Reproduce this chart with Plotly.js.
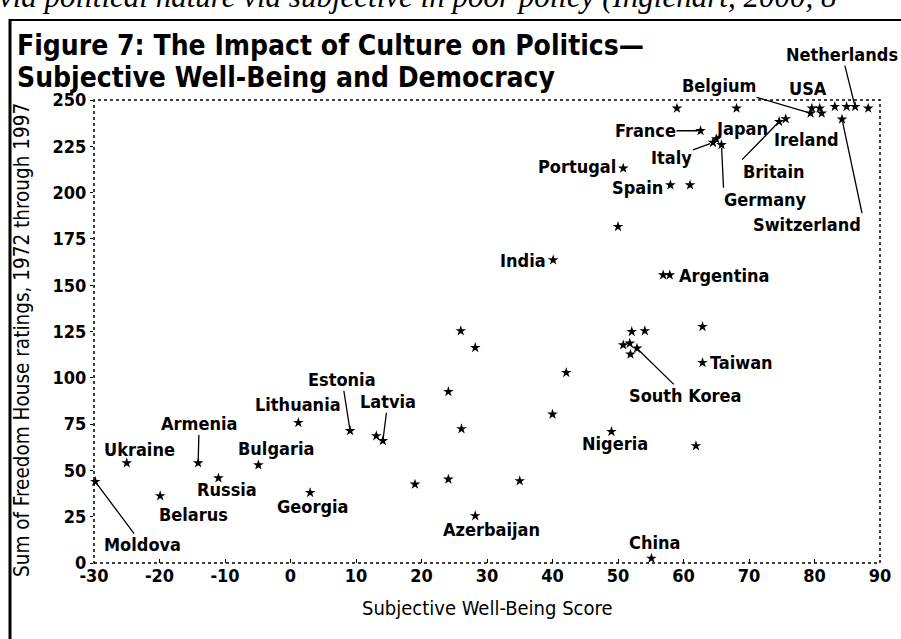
<!DOCTYPE html>
<html><head><meta charset="utf-8">
<script src="https://cdn.plot.ly/plotly-3.0.1.min.js"></script>
<style>html,body{margin:0;padding:0;background:#fff;}#chart{width:901px;height:639px;}</style>
</head><body><div id="chart"></div>
<script>
// ---- data ----
const countries = ['Moldova','Ukraine','Belarus','Armenia','Russia','Bulgaria','Lithuania','Georgia','Estonia','Latvia','',
  '','','','','','','Azerbaijan','','','India','','Nigeria','','Portugal',
  '','','','','South Korea','','China','','Argentina','Spain','','',
  '','France','','Taiwan','Italy','Japan','Germany','','Britain','Ireland',
  'Belgium','','USA','','','Switzerland','','Netherlands',''];
const wellBeing = [-29.8,-25.0,-19.9,-14.1,-11.0,-4.9,1.2,3.0,9.1,14.1,13.1,
  19.0,24.1,24.1,26.1,26.0,28.2,28.2,35.0,40.0,40.1,42.1,49.0,50.0,50.8,
  52.1,54.1,50.8,51.8,52.9,51.9,55.1,56.9,57.9,58.0,61.0,59.0,
  61.9,62.6,62.9,62.9,64.5,65.0,65.8,68.1,74.6,75.6,
  79.4,79.6,80.8,81.1,83.1,84.2,84.9,86.2,88.2];
const freedom = [43.9,54.0,36.2,54.0,45.9,52.9,75.8,38.0,71.4,66.0,68.6,
  42.5,45.2,92.5,72.4,125.3,116.3,25.4,44.3,80.3,163.6,102.8,70.9,181.6,213.1,
  124.9,125.3,117.7,118.6,115.9,112.7,2.5,155.5,155.5,204.1,204.1,245.5,
  63.2,233.4,127.6,108.2,227.0,229.0,225.8,245.5,238.3,239.8,
  242.8,245.5,245.5,242.8,246.4,239.6,246.4,246.4,245.5];
const xTicks = [-30,-20,-10,0,10,20,30,40,50,60,70,80,90];
const yTicks = [0,25,50,75,100,125,150,175,200,225,250];
const titleLines = ['Figure 7: The Impact of Culture on Politics\u2014','Subjective Well-Being and Democracy'];
const xTitle = 'Subjective Well-Being Score';
const yTitle = 'Sum of Freedom House ratings, 1972 through 1997';
const topText = 'via political nature via subjective in poor policy (Inglehart, 2000, 8';

// ---- label placement (pixel offsets from the point) ----
const labelPlace = {
  'Moldova':{arrow:true,ax:47,ay:63},
  'Ukraine':{dx:13,dy:-13},
  'Belarus':{dx:33,dy:19},
  'Armenia':{arrow:true,ax:1,ay:-39},
  'Russia':{dx:9,dy:12},
  'Bulgaria':{dx:18,dy:-17},
  'Lithuania':{dx:0,dy:-18},
  'Georgia':{dx:2,dy:14},
  'Estonia':{arrow:true,ax:-8,ay:-51},
  'Latvia':{arrow:true,ax:5,ay:-39},
  'Azerbaijan':{dx:16,dy:14},
  'China':{dx:3,dy:-16},
  'Nigeria':{dx:4,dy:12},
  'Taiwan':{dx:6,dy:0,xa:'left'},
  'South Korea':{arrow:true,ax:48,ay:47},
  'Argentina':{dx:8,dy:0,xa:'left'},
  'India':{dx:-6,dy:0,xa:'right'},
  'Portugal':{dx:-6,dy:-2,xa:'right'},
  'Spain':{dx:-6,dy:2,xa:'right'},
  'France':{arrow:true,ax:-55,ay:0},
  'Italy':{arrow:true,ax:-41,ay:15},
  'Japan':{arrow:true,ax:-1,ay:-22,xa:'left',ya:'top'},
  'Germany':{arrow:true,ax:2,ay:43,xa:'left',ya:'top'},
  'Britain':{arrow:true,ax:-37,ay:38,xa:'left',ya:'top'},
  'Ireland':{dx:21,dy:21},
  'Belgium':{arrow:true,ax:-54,ay:-16,xa:'right',ya:'bottom'},
  'USA':{dx:-12,dy:-20},
  'Switzerland':{arrow:true,ax:20,ay:94,xa:'right',ya:'top'},
  'Netherlands':{arrow:true,ax:-13,ay:-52}
};

const FONT = "'DejaVu Sans Condensed', 'Liberation Sans Narrow', 'Roboto Condensed', 'DejaVu Sans', sans-serif";
const labFont = {family:FONT,size:18,color:'#000',weight:'bold'};

const annotations = [];
countries.forEach((c,i)=>{
  if(!c) return;
  const p = labelPlace[c] || {dx:0,dy:-15};
  if(p.arrow){
    annotations.push({x:wellBeing[i],y:freedom[i],xref:'x',yref:'y',text:c,showarrow:true,
      ax:p.ax,ay:p.ay,arrowhead:0,arrowwidth:1.3,arrowcolor:'#000',standoff:3,
      xanchor:p.xa||'center',yanchor:p.ya||'middle',font:labFont,borderpad:0});
  } else {
    annotations.push({x:wellBeing[i],y:freedom[i],xref:'x',yref:'y',text:c,showarrow:false,
      xshift:p.dx,yshift:-p.dy,xanchor:p.xa||'center',yanchor:'middle',font:labFont,borderpad:0});
  }
});

// pixel -> paper helpers for the fixed layout
const L=94,R=880,T=100,B=563;
const px=v=>(v-L)/(R-L), py=v=>(B-v)/(B-T);

annotations.push({xref:'paper',yref:'paper',x:px(15),y:py(45),xanchor:'left',yanchor:'middle',showarrow:false,
  text:titleLines[0],font:{family:FONT,size:28,color:'#000',weight:'bold'}});
annotations.push({xref:'paper',yref:'paper',x:px(15),y:py(77),xanchor:'left',yanchor:'middle',showarrow:false,
  text:titleLines[1],font:{family:FONT,size:28,color:'#000',weight:'bold'}});
annotations.push({xref:'paper',yref:'paper',x:px(-3),y:py(16),xanchor:'left',yanchor:'bottom',showarrow:false,
  text:topText,font:{family:"'Liberation Serif', serif",size:31,color:'#000',style:'italic'}});
annotations.push({xref:'paper',yref:'paper',x:px(22),y:py(340),xanchor:'center',yanchor:'middle',showarrow:false,
  textangle:-90,text:yTitle,font:{family:FONT,size:20.5,color:'#000'}});
annotations.push({xref:'paper',yref:'paper',x:0.5,y:py(608),xanchor:'center',yanchor:'middle',showarrow:false,
  text:xTitle,font:{family:FONT,size:20,color:'#000'}});

const shapes = [
  {type:'rect',xref:'paper',yref:'paper',x0:0,x1:1,y0:0,y1:1,line:{color:'#000',width:1.5,dash:'dot'}},
  {type:'line',xref:'paper',yref:'paper',x0:px(10),x1:px(905),y0:py(20),y1:py(20),line:{color:'#000',width:2}},
  {type:'line',xref:'paper',yref:'paper',x0:px(10),x1:px(10),y0:py(19),y1:py(645),line:{color:'#000',width:3}}
];

const trace = {type:'scatter',mode:'markers',x:wellBeing,y:freedom,text:countries,
  marker:{symbol:'star',size:8,color:'#000'},cliponaxis:false,hoverinfo:'text'};

const tickFont = {family:FONT,size:18,color:'#000',weight:'bold'};
const layout = {
  width:901,height:639,margin:{l:L,r:901-R,t:T,b:639-B,pad:0},
  paper_bgcolor:'#fff',plot_bgcolor:'#fff',showlegend:false,
  xaxis:{range:[-30,90],tickvals:xTicks,ticktext:xTicks.map(String),tickfont:tickFont,
    ticks:'inside',ticklen:4,tickcolor:'#000',showgrid:false,zeroline:false,showline:false},
  yaxis:{range:[0,250],tickvals:yTicks,ticktext:yTicks.map(String),tickfont:tickFont,
    ticks:'outside',ticklen:3,tickcolor:'#000',showgrid:false,zeroline:false,showline:false},
  annotations:annotations,shapes:shapes
};
Plotly.newPlot('chart',[trace],layout,{staticPlot:true,displayModeBar:false});
</script></body></html>
